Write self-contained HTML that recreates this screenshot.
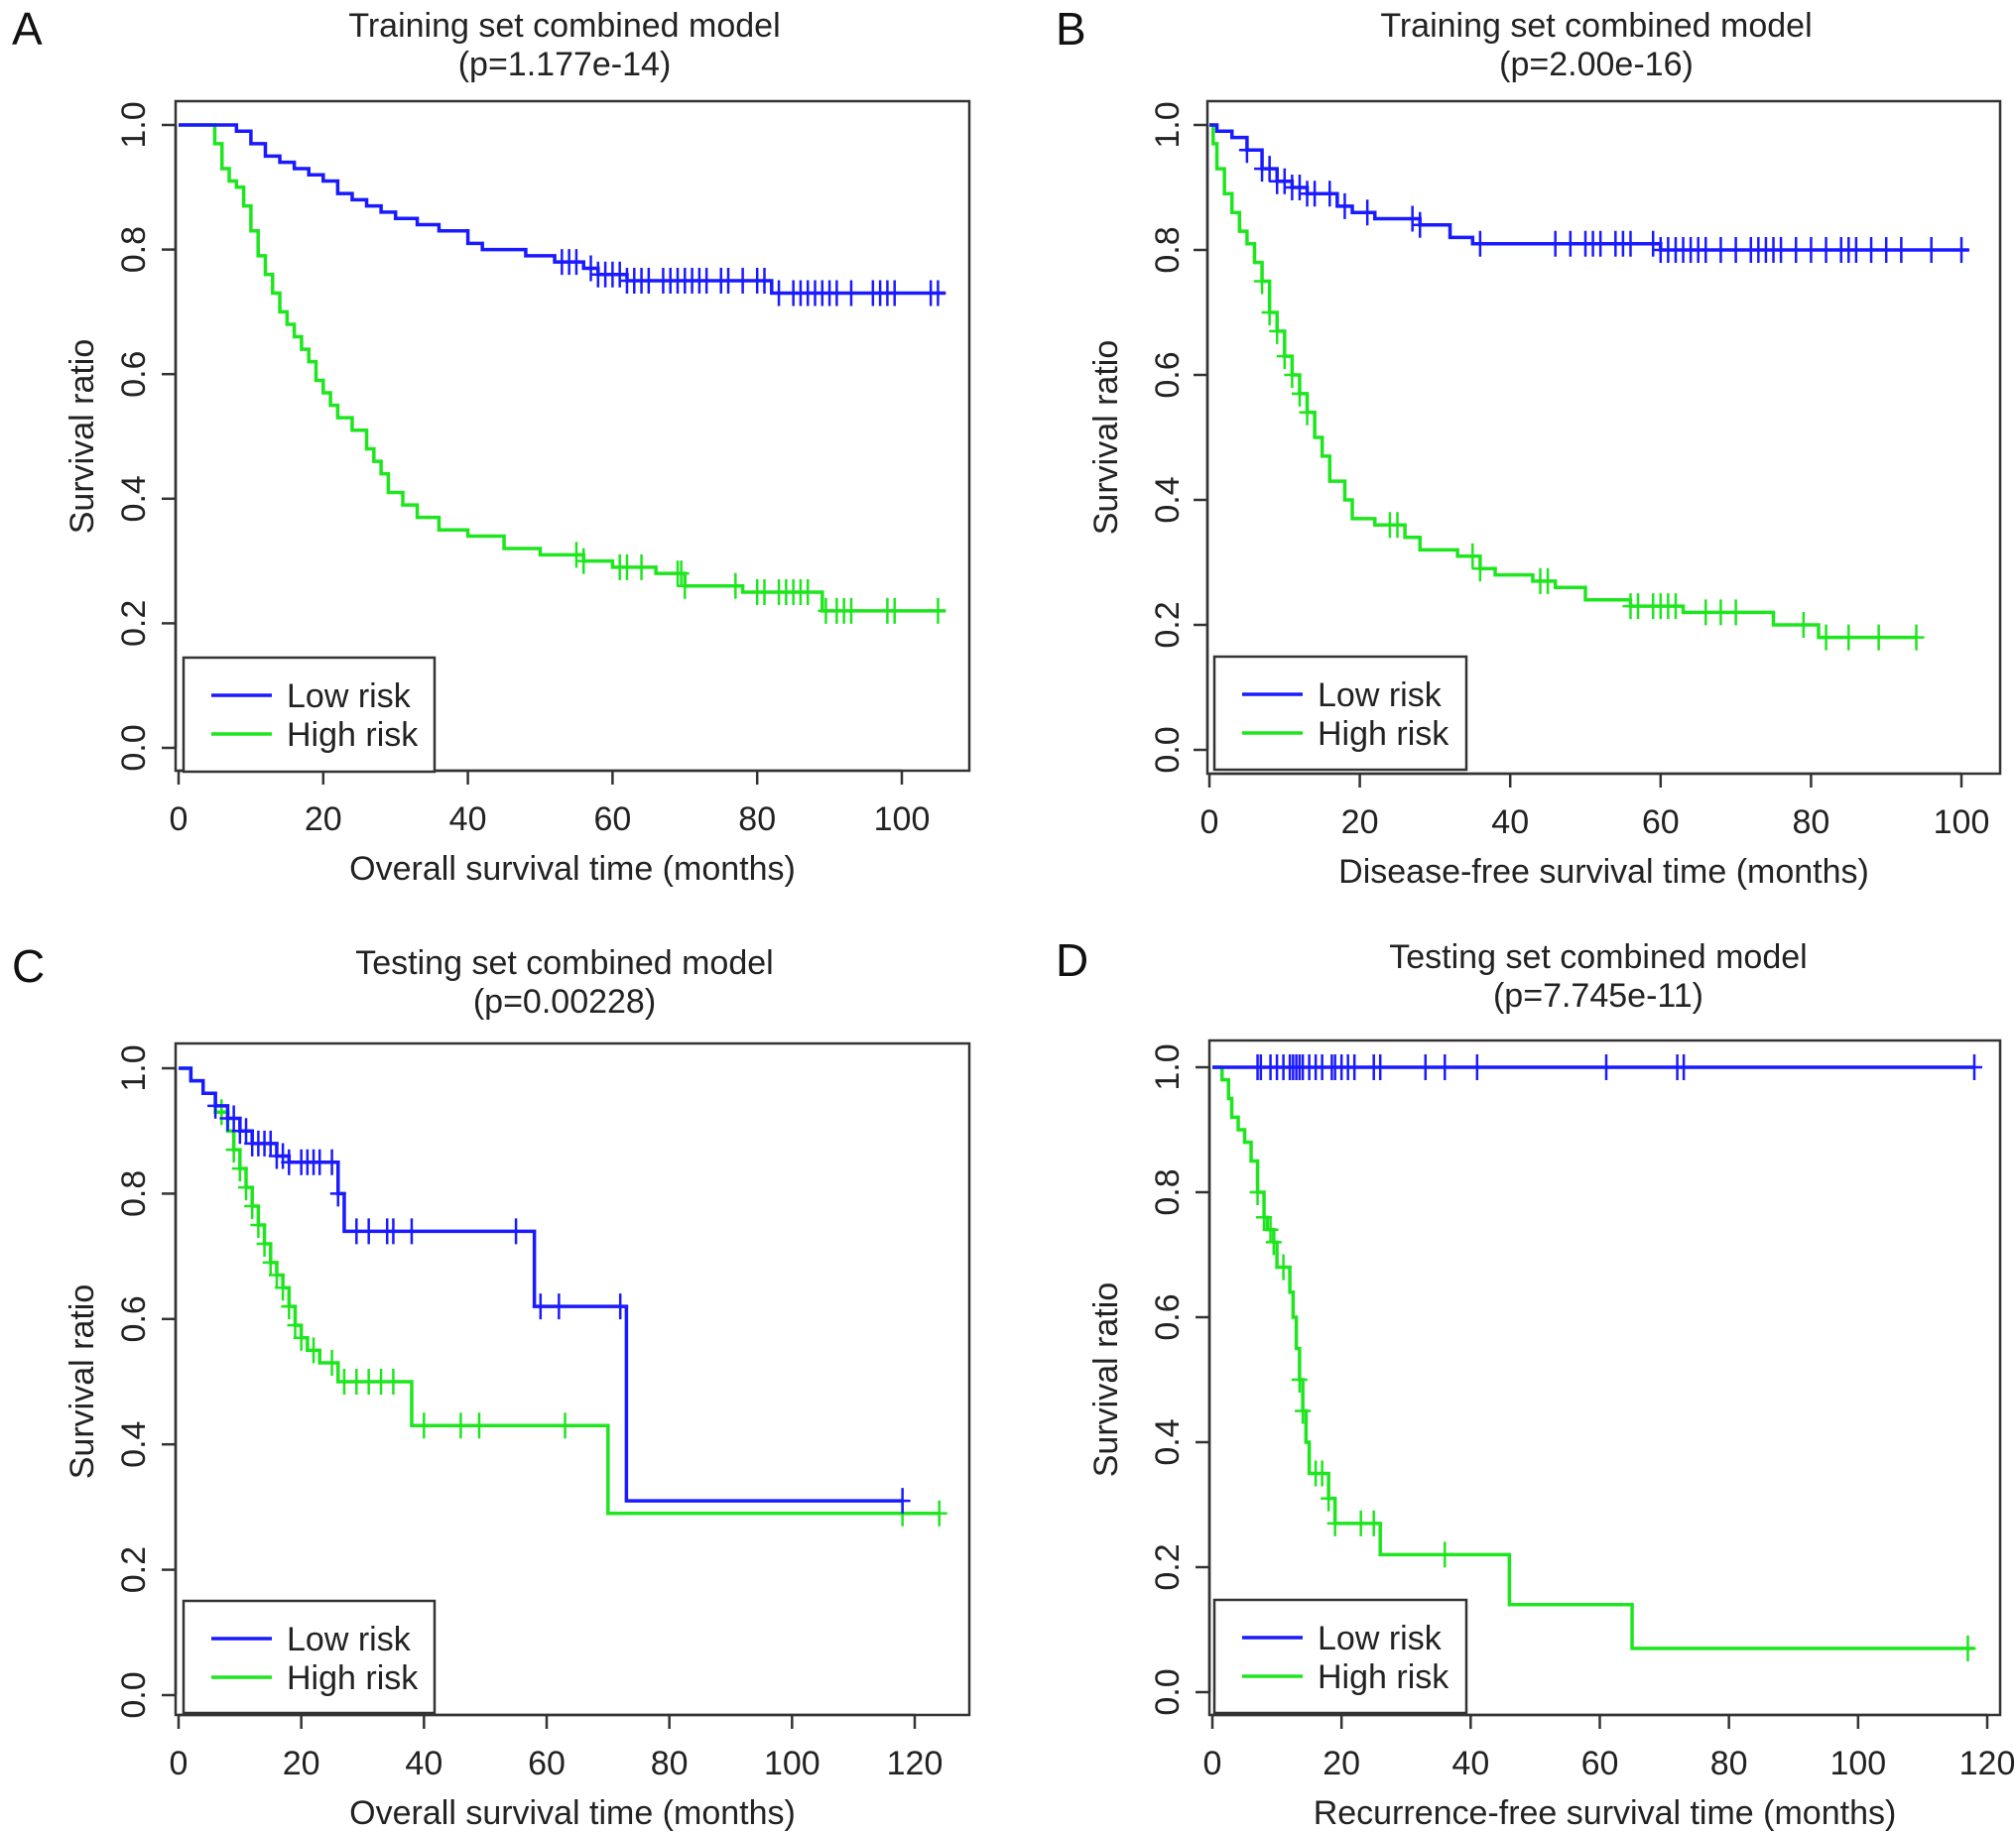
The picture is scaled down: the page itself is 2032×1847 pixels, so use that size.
<!DOCTYPE html>
<html><head><meta charset="utf-8"><style>
html,body{margin:0;padding:0;background:#fff;}
svg{display:block;font-family:"Liberation Sans",sans-serif;}
</style></head><body>
<svg id="fig" width="2032" height="1847" viewBox="0 0 2032 1847"></svg>
<script>
// ---- Data ----
const aLowT=[0,6,8,10,12,14,16,18,20,22,24,26,28,30,33,36,40,42,48,52,56,58,62,82,106];
const aLowS=[1,1,0.99,0.97,0.95,0.94,0.93,0.92,0.91,0.89,0.88,0.87,0.86,0.85,0.84,0.83,0.81,0.80,0.79,0.78,0.77,0.76,0.75,0.73,0.73];
const aLowC=[53,54,55,57,58,59,60,61,62,63,64,65,67,68,69,70,71,72,73,75,76,78,80,81,83,85,86,87,88,89,90,91,93,96,97,98,99,104,105];
const aHighT=[0,4,5,6,7,8,9,10,11,12,13,14,15,16,17,18,19,20,21,22,24,26,27,28,29,31,33,36,40,45,50,56,60,66,70,78,89,106];
const aHighS=[1,1,0.97,0.93,0.91,0.90,0.87,0.83,0.79,0.76,0.73,0.70,0.68,0.66,0.64,0.62,0.59,0.57,0.55,0.53,0.51,0.48,0.46,0.44,0.41,0.39,0.37,0.35,0.34,0.32,0.31,0.30,0.29,0.28,0.26,0.25,0.22,0.22];
const aHighC=[55,56,61,62,64,69,69.5,70,77,80,81,83,84,85,86,87,89.5,91,92,93,98,99,105];

const bLowT=[0,1,3,5,7,9,11,13,17,19,22,28,32,35,60,101];
const bLowS=[1,0.99,0.98,0.96,0.93,0.91,0.90,0.89,0.87,0.86,0.85,0.84,0.82,0.81,0.80,0.80];
const bLowC=[5,7,8,9,10,11,12,13,14,16,18,21,27,28,36,46,48,50,51,52,54,55,56,59,60,61,62,63,64,65,66,68,70,72,73,74,75,76,78,80,82,84,85,86,88,90,92,96,100];
const bHighT=[0,0.5,1,2,3,4,5,6,7,8,9,10,11,12,13,14,15,16,18,19,22,26,28,33,36,38,43,46,50,56,63,75,81,94];
const bHighS=[1,0.97,0.93,0.89,0.86,0.83,0.81,0.78,0.75,0.70,0.67,0.63,0.60,0.57,0.54,0.50,0.47,0.43,0.40,0.37,0.36,0.34,0.32,0.31,0.29,0.28,0.27,0.26,0.24,0.23,0.22,0.20,0.18,0.18];
const bHighC=[7,8,9,10,11,12,13,24,25,35,36,44,45,56,57,59,60,61,62,66,68,70,79,82,85,89,94];

const cLowT=[0,2,4,6,8,10,12,16,18,26,27,58,73,118];
const cLowS=[1,0.98,0.96,0.94,0.92,0.90,0.88,0.86,0.85,0.80,0.74,0.62,0.31,0.31];
const cLowC=[6,8,9,10,11,12,13,14,15,16,17,18,20,21,22,23,25,26,29,31,34,35,38,55,59,62,72,118];
const cHighT=[0,2,4,6,8,9,10,11,12,13,14,15,16,17,18,19,20,21,23,26,38,70,124];
const cHighS=[1,0.98,0.96,0.93,0.90,0.87,0.84,0.81,0.78,0.75,0.72,0.69,0.67,0.65,0.62,0.59,0.57,0.55,0.53,0.50,0.43,0.29,0.29];
const cHighC=[7,9,10,11,12,13,14,15,16,17,18,19,20,22,25,27,29,31,33,35,40,46,49,63,118,124];

const dLowT=[0,118];
const dLowS=[1,1];
const dLowC=[7,7.5,9,10,11,12,12.5,13,13.5,14,15,16,17,18.5,19,20,21,22,25,26,33,36,41,61,72,73,118];
const dHighT=[0,1.5,2.5,3,4,5,6,7,8,8.5,9.5,10,12,12.5,13,13.5,14,14.5,15,18,19,26,46,65,118];
const dHighS=[1,0.98,0.95,0.92,0.90,0.88,0.85,0.80,0.76,0.74,0.72,0.68,0.64,0.60,0.55,0.50,0.45,0.40,0.35,0.31,0.27,0.22,0.14,0.07,0.07];
const dHighC=[7,8,9,9.5,11,13.5,14,16,17,18,19,23,25,36,117];

const xTicksA=[0,20,40,60,80,100];
const xTicksC=[0,20,40,60,80,100,120];
const yTicks=[0,0.2,0.4,0.6,0.8,1.0];

const panels=[
 {id:'a',letter:'A',t1:'Training set combined model',t2:'(p=1.177e-14)',xlab:'Overall survival time (months)',
  box:[177,102,977,777],x0:180,xRef:100,xRefPx:909,y1:126,y0:754,ticks:xTicksA,tc:569,tY:25,
  lowT:aLowT,lowS:aLowS,lowC:aLowC,highT:aHighT,highS:aHighS,highC:aHighC,leg:[185,663,438,778],lx:12,ylx:134,yl:82},
 {id:'b',letter:'B',t1:'Training set combined model',t2:'(p=2.00e-16)',xlab:'Disease-free survival time (months)',
  box:[1217,102,2016,780],x0:1219,xRef:100,xRefPx:1977,y1:126,y0:756,ticks:xTicksA,tc:1609,tY:25,
  lowT:bLowT,lowS:bLowS,lowC:bLowC,highT:bHighT,highS:bHighS,highC:bHighC,leg:[1224,662,1478,776],lx:1064,ylx:1176,yl:1114},
 {id:'c',letter:'C',t1:'Testing set combined model',t2:'(p=0.00228)',xlab:'Overall survival time (months)',
  box:[177,1052,977,1729],x0:180,xRef:120,xRefPx:922,y1:1077,y0:1709,ticks:xTicksC,tc:569,tY:970,
  lowT:cLowT,lowS:cLowS,lowC:cLowC,highT:cHighT,highS:cHighS,highC:cHighC,leg:[185,1614,438,1727],lx:12,ylx:134,yl:82},
 {id:'d',letter:'D',t1:'Testing set combined model',t2:'(p=7.745e-11)',xlab:'Recurrence-free survival time (months)',
  box:[1219,1049,2016,1729],x0:1222,xRef:120,xRefPx:2003,y1:1076,y0:1706,ticks:xTicksC,tc:1611,tY:964,
  lowT:dLowT,lowS:dLowS,lowC:dLowC,highT:dHighT,highS:dHighS,highC:dHighC,leg:[1224,1613,1478,1727],lx:1064,ylx:1176,yl:1114}
];

const NS='http://www.w3.org/2000/svg';
const svg=document.getElementById('fig');
function mk(tag,attrs,parent,text){const e=document.createElementNS(NS,tag);for(const k in attrs)e.setAttribute(k,attrs[k]);if(text!==undefined)e.textContent=text;parent.appendChild(e);return e;}
const BLUE='#1a1aff',GREEN='#1ee61e',AX='#333',FS=34;

panels.forEach(p=>{
 const g=mk('g',{},svg);
 
 
 const xs=t=>p.x0+(p.xRefPx-p.x0)*t/p.xRef;
 const ys=v=>p.y0+(p.y1-p.y0)*v;
 const L=mk('text',{x:p.lx,y:p.tY+20,'font-size':46,'text-anchor':'start',fill:'#111'},g,p.letter);
 
 const t1=mk('text',{x:p.tc,y:p.tY+12,'font-size':FS,'text-anchor':'middle',fill:'#222'},g,p.t1);
 
 const t2=mk('text',{x:p.tc,y:p.tY+51,'font-size':FS,'text-anchor':'middle',fill:'#222'},g,p.t2);
 
 const b=p.box;
 const r=mk('rect',{x:b[0],y:b[1],width:b[2]-b[0],height:b[3]-b[1],fill:'none',stroke:AX,'stroke-width':2.5},g);
 
 // y axis
 const ya=mk('g',{},g);
 mk('line',{x1:b[0],x2:b[0],y1:ys(0),y2:ys(1),stroke:AX,'stroke-width':2.5},ya);
 yTicks.forEach(v=>{
  mk('line',{x1:b[0]-14,x2:b[0],y1:ys(v),y2:ys(v),stroke:AX,'stroke-width':2.5},ya);
  const tx=mk('text',{x:p.ylx,y:ys(v),'font-size':FS,'text-anchor':'middle',transform:`rotate(-90 ${p.ylx} ${ys(v)})`,fill:'#222'},ya,v.toFixed(1));
  tx.setAttribute('dy','0.35em');
  
 });
 const yt=mk('text',{x:p.yl,y:(ys(0)+ys(1))/2,'font-size':FS,'text-anchor':'middle',transform:`rotate(-90 ${p.yl} ${(ys(0)+ys(1))/2})`,fill:'#222'},g,'Survival ratio');
 yt.setAttribute('dy','0.35em');
 // x axis
 const xa=mk('g',{},g);
 const last=p.ticks[p.ticks.length-1];
 mk('line',{x1:xs(0),x2:xs(last),y1:b[3],y2:b[3],stroke:AX,'stroke-width':2.5},xa);
 p.ticks.forEach(v=>{
  mk('line',{x1:xs(v),x2:xs(v),y1:b[3],y2:b[3]+14,stroke:AX,'stroke-width':2.5},xa);
  const tx=mk('text',{x:xs(v),y:b[3]+60,'font-size':FS,'text-anchor':'middle',fill:'#222'},xa,String(v));
  
 });
 const xt=mk('text',{x:(b[0]+b[2])/2,y:b[3]+110,'font-size':FS,'text-anchor':'middle',fill:'#222'},g,p.xlab);
 
 // curves
 function curve(T,S,C,color,name){
  const cg=mk('g',{},g);
  
  
  let d=`M${xs(T[0])},${ys(S[0])}`;
  for(let i=1;i<T.length;i++){d+=` H${xs(T[i])} V${ys(S[i])}`;}
  mk('path',{d:d,fill:'none',stroke:color,'stroke-width':3.5},cg);
  C.forEach(c=>{
   let s=S[0];for(let i=0;i<T.length;i++){if(T[i]<=c)s=S[i];}
   const px=xs(c),py=ys(s);
   const m=mk('path',{d:`M${px},${py-13} V${py+13} M${px-8},${py} H${px+8}`,stroke:color,'stroke-width':2.5},cg);
   
  });
 }
 curve(p.highT,p.highS,p.highC,GREEN,'high-risk-curve');
 curve(p.lowT,p.lowS,p.lowC,BLUE,'low-risk-curve');
 // legend
 const lg=mk('g',{},g);
 const l=p.leg;
 mk('rect',{x:l[0],y:l[1],width:l[2]-l[0],height:l[3]-l[1],fill:'#fff',stroke:AX,'stroke-width':2.5},lg);
 const e1=mk('g',{},lg);
 mk('line',{x1:l[0]+28,x2:l[0]+89,y1:l[1]+38,y2:l[1]+38,stroke:BLUE,'stroke-width':3.5},e1);
 mk('text',{x:l[0]+104,y:l[1]+50,'font-size':FS,fill:'#222'},e1,'Low risk');
 const e2=mk('g',{},lg);
 mk('line',{x1:l[0]+28,x2:l[0]+89,y1:l[1]+77,y2:l[1]+77,stroke:GREEN,'stroke-width':3.5},e2);
 mk('text',{x:l[0]+104,y:l[1]+89,'font-size':FS,fill:'#222'},e2,'High risk');
});
</script>
</body></html>
